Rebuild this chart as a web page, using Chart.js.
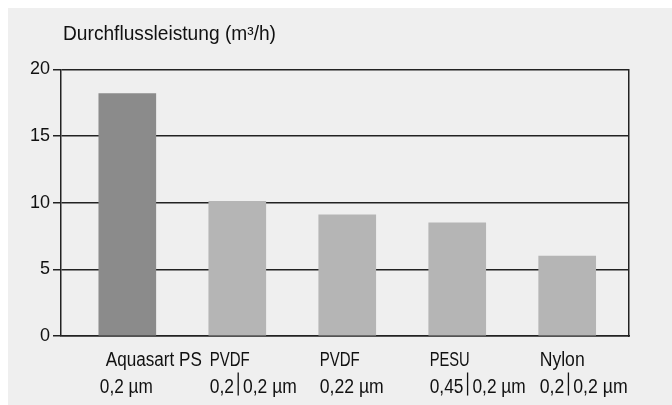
<!DOCTYPE html>
<html>
<head>
<meta charset="utf-8">
<script src="https://cdn.jsdelivr.net/npm/chart.js@4.4.1/dist/chart.umd.min.js"></script>
<style>
  html, body { margin: 0; padding: 0; background: #ffffff; }
  #wrap { position: absolute; left: 8px; top: 8px; width: 664px; height: 397px; background: #efefef; }
  canvas { display: block; }
</style>
</head>
<body>
<div id="wrap"><canvas id="c" width="664" height="397"></canvas></div>
<script>
// ---- data ----
const categories = ["Aquasart PS", "PVDF", "PVDF", "PESU", "Nylon"];
const subLabels = ["0,2 µm", "0,2|0,2 µm", "0,22 µm", "0,45|0,2 µm", "0,2|0,2 µm"];
const flowValues = [18.2, 10.1, 9.1, 8.5, 6.0];
const yTicks = [0, 5, 10, 15, 20];
const titleText = "Durchflussleistung (m³/h)";

// ---- styles ----
const barColors = ["#8b8b8b", "#b5b5b5", "#b5b5b5", "#b5b5b5", "#b5b5b5"];
const labelFont = '19.5px "Liberation Sans", Arial, sans-serif';
const BAR_W = 57;
const titleWidth = 213;
const catWidths = [96, 40, 40, 40, 45];
const subWidths = [53, 87, 64, 96, 88];

function drawFitted(ctx, text, x, y, targetW) {
  const segs = text.split('|');
  const sepW = 9;
  let natural = 0;
  segs.forEach(s => natural += ctx.measureText(s).width);
  const sx = (targetW - sepW * (segs.length - 1)) / natural;
  let cx = x;
  segs.forEach((s, k) => {
    if (k > 0) {
      ctx.fillRect(cx + 3.5, y - 20, 1.3, 23);
      cx += sepW;
    }
    ctx.save();
    ctx.translate(cx, y);
    ctx.scale(sx, 1);
    ctx.fillText(s, 0, 0);
    ctx.restore();
    cx += ctx.measureText(s).width * sx;
  });
}

const labelsPlugin = {
  id: 'labelsPlugin',
  afterDraw(chart) {
    const ctx = chart.ctx;
    const xs = chart.scales.x;
    ctx.save();
    ctx.fillStyle = '#111';
    ctx.textAlign = 'left';
    ctx.textBaseline = 'alphabetic';
    ctx.font = labelFont;
    drawFitted(ctx, titleText, 55, 32, titleWidth);
    categories.forEach((cat, i) => {
      const left = xs.getPixelForValue(i) - BAR_W / 2 + 1;
      const off = i === 0 ? 6 : 0;
      drawFitted(ctx, cat, left + off, 357.5, catWidths[i]);
      drawFitted(ctx, subLabels[i], left, 384.5, subWidths[i]);
    });
    ctx.restore();
  }
};

new Chart(document.getElementById('c'), {
  type: 'bar',
  data: {
    datasets: [{
      data: flowValues.map((v, i) => ({ x: i, y: v })),
      backgroundColor: barColors,
      borderWidth: 0,
      barThickness: BAR_W
    }]
  },
  options: {
    responsive: false,
    animation: false,
    events: [],
    layout: { padding: { top: 61.5, right: 43, left: 0, bottom: 0 } },
    plugins: { legend: { display: false }, tooltip: { enabled: false }, title: { display: false } },
    scales: {
      x: {
        type: 'linear',
        offset: false,
        min: -0.603,
        max: 4.562,
        grid: { display: false },
        border: { display: true, color: '#222', width: 1.5 },
        ticks: { display: false },
        afterFit(s) { s.height = 69; }
      },
      y: {
        min: 0,
        max: 20,
        afterBuildTicks(s) { s.ticks = yTicks.map(v => ({ value: v })); },
        ticks: {
          color: '#111',
          padding: 3,
          font: { family: '"Liberation Sans", Arial, sans-serif', size: 18 }
        },
        grid: { color: '#222', lineWidth: 1.5, tickLength: 8, drawTicks: true },
        border: { display: true, color: '#222', width: 1.5 },
        afterFit(s) { s.width = 53; }
      },
      y2: {
        position: 'right',
        min: 0,
        max: 20,
        grid: { display: false },
        ticks: { display: false },
        border: { display: true, color: '#222', width: 1.5 },
        afterFit(s) { s.width = 0; }
      }
    }
  },
  plugins: [labelsPlugin]
});
</script>
</body>
</html>
